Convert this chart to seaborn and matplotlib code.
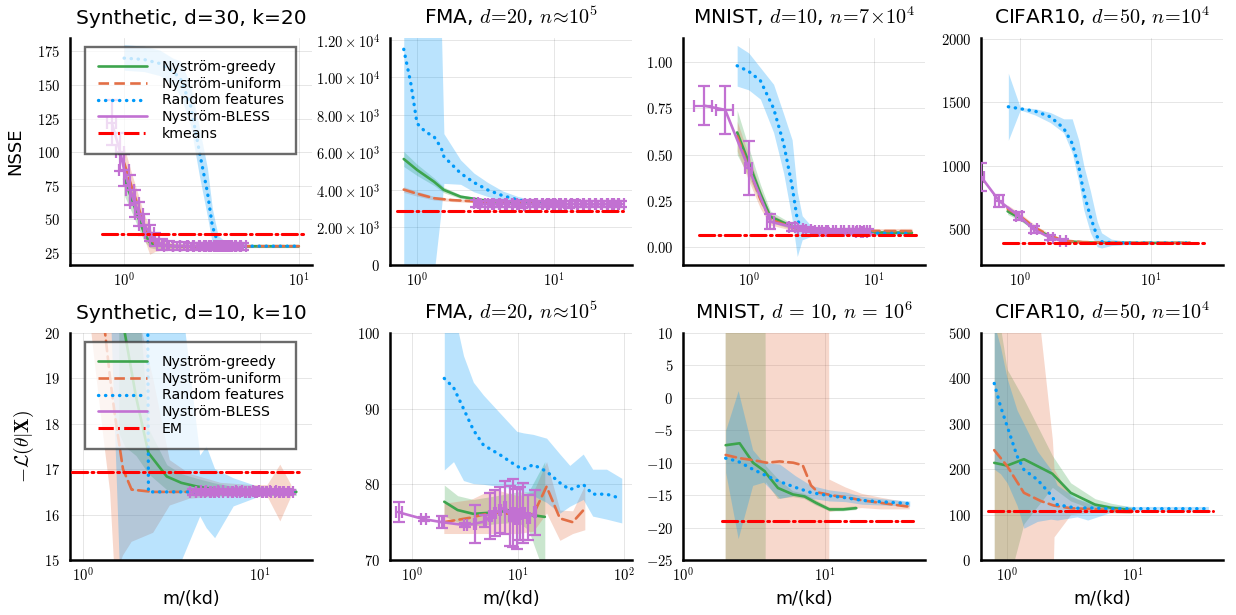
# -*- encoding: utf-8 -*-
import numpy as np
import matplotlib
matplotlib.use("Agg")
import matplotlib.pyplot as plt
import seaborn as sns
from matplotlib.lines import Line2D
from matplotlib.ticker import FixedLocator, NullLocator

# ---------------- top row: NSSE ----------------
# Synthetic, d=30, k=20
syn30_x = [1.0, 1.1, 1.2, 1.3, 1.4, 1.5, 1.7, 2.0, 3.0, 5.0, 7.0, 10.0]
syn30_gr = [80, 66, 52, 40, 33, 31, 30.5, 30, 30, 30, 30, 30]
syn30_gr_lo = [68, 56, 44, 34, 29, 28, 28.5, 28.5, 29, 29, 29, 29]
syn30_gr_hi = [92, 76, 60, 46, 37, 34, 32.5, 31.5, 31, 31, 31, 31]
syn30_un = [92, 75, 60, 46, 37, 32, 30.5, 30, 30, 30, 30, 30]
syn30_un_lo = [80, 65, 51, 36, 24, 26, 27.5, 28, 29, 29, 29, 29]
syn30_un_hi = [104, 85, 69, 54, 44, 37, 33.5, 32, 31, 31, 31, 31]
syn30_rf_x = [1.0, 1.3, 1.6, 1.9, 2.1, 2.4, 2.7, 3.0, 3.2, 3.45, 4.0, 5.0, 7.0, 10.0]
syn30_rf = [170, 169, 166, 160, 155, 135, 100, 70, 45, 32, 30, 30, 30, 30]
syn30_rf_lo = [161, 160, 157, 150, 142, 120, 82, 52, 32, 27, 29, 29, 29, 29]
syn30_rf_hi = [180, 179, 176, 170, 168, 150, 118, 88, 58, 38, 31, 31, 31, 31]
syn30_bl_x = [0.85, 0.95, 1.0, 1.08, 1.15, 1.22, 1.3, 1.4, 1.5, 1.65, 1.8, 2.0, 2.2,
              2.4, 2.6, 2.8, 3.0, 3.2, 3.4, 3.6, 3.8, 4.0, 4.2, 4.5, 4.8]
syn30_bl = [122, 100, 87, 72, 62, 54, 46, 40, 35, 31, 30.5, 29.8, 30.2, 29.9, 30.1,
            30.0, 29.8, 30.2, 30.0, 30.0, 29.9, 30.1, 30.0, 29.9, 30.0]
syn30_bl_yerr = [17, 14, 12, 11, 10, 9, 8, 6, 5, 4, 3.5, 3, 3, 2.5, 2.5, 2.5, 2.5, 2.5,
                 2.5, 2.5, 2.5, 2.5, 2.5, 2.5, 2.5]
syn30_bl_xerr = [0.05, 0.05, 0.06, 0.06, 0.07, 0.07, 0.08, 0.08, 0.09, 0.1, 0.1, 0.1,
                 0.12, 0.12, 0.12, 0.13, 0.13, 0.14, 0.14, 0.15, 0.15, 0.16, 0.16, 0.17, 0.18]
syn30_kmeans = 39
syn30_kmeans_x = [0.75, 11.0]

# FMA, NSSE
fman_rf_x = [0.8, 0.9, 1.0, 1.15, 1.33, 1.5, 1.57, 2.08, 2.6, 3.28, 4.2, 5.45, 7.2, 9.0]
fman_rf = [11500, 9700, 7550, 7100, 6840, 6250, 5780, 4890, 4400, 4000, 3700, 3470, 3320, 3260]
fman_rf_lo = [-3000, -2500, -2000, -1500, -500, 2900, 4350, 4300, 3900, 3650, 3450, 3300, 3180, 3150]
fman_rf_hi = [15000, 15000, 15000, 14500, 13500, 13000, 7000, 5600, 4900, 4400, 3950, 3650, 3450, 3380]
fman_gr_x = [0.8, 1.0, 1.33, 1.57, 2.08, 3.0, 4.0, 5.5, 8.0, 10.0]
fman_gr = [5650, 5070, 4440, 4000, 3640, 3460, 3380, 3330, 3300, 3290]
fman_gr_lo = [5250, 4770, 4240, 3850, 3540, 3380, 3320, 3280, 3250, 3240]
fman_gr_hi = [6050, 5370, 4640, 4150, 3740, 3540, 3440, 3380, 3350, 3340]
fman_un_x = [0.8, 1.0, 1.33, 1.8, 2.8, 4.0, 6.0, 10.0]
fman_un = [4020, 3800, 3560, 3460, 3380, 3320, 3280, 3260]
fman_un_lo = [3870, 3670, 3460, 3380, 3320, 3270, 3230, 3210]
fman_un_hi = [4170, 3930, 3660, 3540, 3440, 3370, 3330, 3310]
fman_bl_x = [2.7, 3.0, 3.4, 3.8, 4.2, 4.7, 5.2, 5.8, 6.4, 7.0, 7.8, 8.6, 9.5, 10.5, 11.6,
             12.8, 14.1, 15.6, 17.2, 19.0, 21.0, 23.2, 25.6, 28.3, 31.0]
fman_bl = [3280, 3240, 3260, 3230, 3270, 3250, 3240, 3220, 3260, 3240, 3250, 3230, 3260,
           3240, 3250, 3230, 3260, 3240, 3250, 3230, 3240, 3250, 3230, 3240, 3250]
fman_bl_yerr = [190, 170, 180, 160, 180, 170, 160, 170, 180, 160, 170, 160, 180, 170, 160,
                170, 180, 160, 170, 160, 170, 180, 160, 170, 180]
fman_bl_xerr = [0.1, 0.12, 0.13, 0.15, 0.17, 0.19, 0.2, 0.23, 0.25, 0.28, 0.3, 0.34, 0.38,
                0.42, 0.46, 0.5, 0.56, 0.62, 0.68, 0.75, 0.84, 0.92, 1.0, 1.1, 1.2]
fman_kmeans = 2880
fman_kmeans_x = [0.71, 32.0]

# MNIST, NSSE
mnn_rf_x = [0.81, 1.0, 1.24, 1.58, 1.9, 2.22, 2.44, 2.67, 3.2, 4.0, 6.0, 10.0, 20.0]
mnn_rf = [0.98, 0.95, 0.90, 0.75, 0.56, 0.33, 0.15, 0.095, 0.085, 0.08, 0.078, 0.076, 0.075]
mnn_rf_lo = [0.87, 0.85, 0.80, 0.62, 0.40, 0.15, -0.05, 0.04, 0.06, 0.065, 0.068, 0.068, 0.068]
mnn_rf_hi = [1.09, 1.05, 0.97, 0.88, 0.72, 0.58, 0.30, 0.17, 0.11, 0.095, 0.088, 0.085, 0.082]
mnn_x = [0.81, 1.0, 1.24, 1.49, 2.25, 3.0, 5.0, 10.0, 20.0]
mnn_gr = [0.62, 0.46, 0.29, 0.165, 0.11, 0.092, 0.085, 0.08, 0.078]
mnn_gr_lo = [0.50, 0.38, 0.24, 0.135, 0.095, 0.082, 0.077, 0.072, 0.07]
mnn_gr_hi = [0.74, 0.54, 0.34, 0.195, 0.125, 0.102, 0.093, 0.088, 0.086]
mnn_un = [0.60, 0.43, 0.26, 0.15, 0.105, 0.095, 0.09, 0.088, 0.087]
mnn_un_lo = [0.52, 0.36, 0.21, 0.12, 0.09, 0.085, 0.08, 0.076, 0.072]
mnn_un_hi = [0.68, 0.50, 0.31, 0.18, 0.12, 0.105, 0.1, 0.1, 0.102]
mnn_bl_x = [0.44, 0.65, 1.0, 1.49, 2.22, 2.6, 3.0, 3.5, 4.0, 4.5, 5.2, 6.0, 6.5, 7.0, 7.5,
            8.0, 8.5, 9.0]
mnn_bl = [0.765, 0.742, 0.427, 0.138, 0.11, 0.10, 0.095, 0.09, 0.09, 0.088, 0.087, 0.086,
          0.085, 0.085, 0.084, 0.085, 0.084, 0.085]
mnn_bl_yerr = [0.105, 0.13, 0.145, 0.04, 0.02, 0.015, 0.015, 0.012, 0.012, 0.012, 0.012,
               0.012, 0.012, 0.012, 0.012, 0.012, 0.012, 0.012]
mnn_bl_xerr = [0.07, 0.1, 0.07, 0.1, 0.12, 0.12, 0.12, 0.15, 0.15, 0.2, 0.2, 0.25, 0.25,
               0.25, 0.3, 0.3, 0.3, 0.3]
mnn_kmeans = 0.066
mnn_kmeans_x = [0.40, 21.5]

# CIFAR10, NSSE
cfn_rf_x = [0.81, 1.0, 1.3, 1.7, 2.15, 2.5, 2.81, 3.07, 3.45, 3.89, 4.2, 5.0, 7.0, 10.0, 15.0, 20.0]
cfn_rf = [1465, 1450, 1430, 1386, 1296, 1176, 992, 782, 597, 439, 400, 392, 390, 390, 390, 390]
cfn_rf_lo = [1200, 1440, 1400, 1340, 1260, 1100, 870, 650, 470, 360, 350, 370, 380, 385, 385, 385]
cfn_rf_hi = [1730, 1460, 1450, 1420, 1370, 1370, 1200, 1000, 800, 560, 470, 420, 400, 395, 395, 395]
cfn_x = [0.8, 1.0, 1.3, 1.7, 2.2, 3.0, 5.0, 10.0, 20.0]
cfn_gr = [640, 585, 500, 440, 405, 395, 390, 390, 390]
cfn_gr_lo = [615, 565, 485, 428, 395, 387, 385, 385, 385]
cfn_gr_hi = [665, 605, 515, 452, 415, 403, 395, 395, 395]
cfn_un = [660, 600, 510, 445, 408, 397, 392, 391, 391]
cfn_un_lo = [630, 575, 490, 430, 398, 389, 387, 386, 386]
cfn_un_hi = [690, 625, 530, 460, 418, 405, 397, 396, 396]
cfn_bl_x = [0.5, 0.69, 0.98, 1.27, 1.7, 2.13]
cfn_bl = [913, 721, 602, 497, 431, 405]
cfn_bl_yerr = [110, 45, 30, 25, 20, 15]
cfn_bl_xerr = [0.03, 0.05, 0.06, 0.07, 0.08, 0.1]
cfn_kmeans = 387
cfn_kmeans_x = [0.74, 25.7]

# ---------------- bottom row: -log-likelihood ----------------
# Synthetic, d=10, k=10
s10_gr_x = [1.6, 1.73, 2.0, 2.35, 2.98, 3.6, 4.4, 5.5, 7.1, 10.0, 16.0]
s10_gr = [21.5, 20.0, 18.6, 17.36, 16.84, 16.7, 16.62, 16.56, 16.52, 16.5, 16.5]
s10_gr_lo = [17.8, 17.5, 17.3, 16.9, 16.55, 16.5, 16.45, 16.42, 16.42, 16.42, 16.42]
s10_gr_hi = [26, 24, 21.5, 17.9, 17.1, 16.9, 16.8, 16.7, 16.62, 16.58, 16.58]
s10_un_x = [1.1, 1.2, 1.34, 1.43, 1.52, 1.69, 1.89, 2.5, 3.1, 4.0, 6.0, 9.0, 11.0, 13.0, 15.0]
s10_un = [24, 22, 20, 19.0, 18.2, 17.0, 16.55, 16.5, 16.5, 16.5, 16.5, 16.5, 16.5, 16.5, 16.5]
s10_un_lo = [20.3, 19.0, 17.4, 16.5, 14.6, 15.1, 15.4, 15.6, 16.2, 16.35, 16.4, 16.4, 16.4, 15.85, 16.4]
s10_un_hi = [35, 32, 30, 28, 26, 23, 21, 19, 17.2, 16.9, 16.7, 16.65, 16.65, 17.1, 16.65]
s10_rf_x = [1.4, 1.62, 2.0, 2.28, 2.35, 3.0, 3.55, 4.6, 5.0, 5.58, 7.1, 10.0, 16.0]
s10_rf = [40, 38, 35, 30, 16.5, 16.5, 16.5, 16.5, 16.5, 16.5, 16.5, 16.5, 16.5]
s10_rf_lo = [22, 14.9, 13, 13, 13, 14, 14.9, 15.96, 15.7, 15.48, 16.18, 16.4, 16.45]
s10_rf_hi = [60, 55, 50, 45, 30, 25, 21, 17.3, 17.5, 17.0, 16.8, 16.6, 16.55]
s10_bl_x = [4.2, 4.5, 4.8, 5.1, 5.4, 5.7, 6.0, 6.4, 6.8, 7.2, 7.6, 8.0, 8.5, 9.0, 9.5,
            10.0, 10.6, 11.2, 11.8, 12.5, 13.2, 14.0, 14.8]
s10_bl = [16.50, 16.49, 16.51, 16.50, 16.49, 16.50, 16.51, 16.50, 16.49, 16.50, 16.51,
          16.50, 16.49, 16.50, 16.51, 16.50, 16.49, 16.50, 16.51, 16.50, 16.49, 16.50, 16.50]
s10_bl_yerr = [0.06, 0.05, 0.05, 0.06, 0.05, 0.05, 0.06, 0.05, 0.05, 0.06, 0.05, 0.05,
               0.06, 0.05, 0.05, 0.06, 0.05, 0.05, 0.06, 0.05, 0.05, 0.06, 0.05]
s10_bl_xerr = [0.15, 0.16, 0.17, 0.18, 0.19, 0.2, 0.21, 0.22, 0.24, 0.25, 0.27, 0.28, 0.3,
               0.31, 0.33, 0.35, 0.37, 0.39, 0.41, 0.44, 0.46, 0.49, 0.52]
s10_em = 16.94
s10_em_x = [0.87, 17.2]

# FMA, log-likelihood
fmal_rf_x = [2.02, 2.47, 3.07, 3.8, 4.73, 6.8, 9.8, 11.3, 14.0, 18.7, 25.0, 31.0, 41.5, 51.0, 69.0, 96.0]
fmal_rf = [94.0, 92.8, 90.0, 87.2, 85.2, 83.9, 82.4, 82.0, 82.6, 81.7, 80.2, 79.3, 80.0, 78.7, 78.7, 78.1]
fmal_rf_lo = [81.9, 83.0, 80.5, 80.1, 80.0, 79.7, 79.3, 79.0, 78.5, 77.6, 76.2, 77.1, 78.0, 75.8, 75.4, 74.9]
fmal_rf_hi = [105, 103, 97, 93.5, 91.8, 89.4, 87.0, 86.8, 86.6, 86.1, 84.0, 82.5, 84.0, 82.0, 82.0, 80.8]
fmal_gr_x = [2.02, 2.7, 3.8, 6.3, 10.0, 12.6, 18.0]
fmal_gr = [77.7, 76.6, 76.1, 76.3, 76.7, 76.0, 75.7]
fmal_gr_lo = [75.8, 75.0, 74.5, 74.8, 75.0, 74.0, 68.0]
fmal_gr_hi = [79.9, 78.5, 78.0, 78.5, 79.0, 79.0, 83.0]
fmal_un_x = [2.0, 3.6, 5.8, 10.0, 14.0, 18.7, 25.0, 33.0, 43.0]
fmal_un = [75.0, 75.6, 76.3, 76.0, 76.0, 79.7, 75.5, 75.0, 76.8]
fmal_un_lo = [73.5, 73.5, 73.5, 73.5, 73.8, 76.2, 72.6, 73.5, 74.0]
fmal_un_hi = [77.5, 78.0, 79.4, 78.5, 79.0, 83.0, 76.6, 76.5, 79.9]
fmal_bl_x = [0.75, 1.29, 1.92, 3.19, 3.95, 4.9, 5.5, 6.1, 6.8, 7.6, 8.5, 9.1, 9.8, 10.5, 11.3, 12.6, 14.6]
fmal_bl = [76.3, 75.4, 75.0, 74.6, 74.8, 75.1, 75.8, 76.2, 76.6, 77.0, 75.8, 76.2, 75.4, 76.1, 76.2, 75.6, 76.3]
fmal_bl_yerr = [1.3, 0.3, 0.8, 0.3, 2.5, 0.8, 3.0, 3.0, 3.0, 3.5, 4.0, 4.5, 4.0, 3.5, 4.0, 3.0, 3.0]
fmal_bl_xerr = [0.05, 0.08, 0.1, 0.1, 0.1, 0.15, 0.15, 0.15, 0.2, 0.2, 0.25, 0.25, 0.3, 0.3, 0.3, 0.35, 0.4]

# MNIST, log-likelihood
mnl_gr_x = [2.0, 2.51, 3.12, 3.77, 3.85, 4.68, 5.98, 7.2, 8.7, 10.8, 13.5, 16.7]
mnl_gr = [-7.3, -7.0, -10.0, -11.3, -11.6, -13.9, -14.9, -15.2, -16.2, -17.2, -17.2, -17.0]
mnl_gr_lo = [-60, -60, -60, -60, -13.0, -15.6, -15.3, -15.6, -16.6, -17.5, -17.5, -17.3]
mnl_gr_hi = [60, 60, 60, 60, -10.5, -12.5, -14.4, -14.8, -15.8, -16.9, -16.9, -16.7]
mnl_un_x = [2.0, 2.51, 3.12, 3.9, 4.8, 6.0, 7.0, 8.0, 9.0, 10.6, 10.8, 14.0, 18.3, 25.0, 39.8]
mnl_un = [-8.8, -9.3, -9.6, -10.0, -9.8, -10.0, -10.4, -13.5, -14.6, -14.9, -15.0, -15.3, -15.8, -16.2, -16.8]
mnl_un_lo = [-60, -60, -60, -60, -60, -60, -60, -60, -60, -60, -17.6, -17.2, -17.0, -17.2, -17.2]
mnl_un_hi = [60, 60, 60, 60, 60, 60, 60, 60, 60, 60, -12.6, -13.8, -14.8, -15.4, -16.2]
mnl_rf_x = [2.0, 2.45, 3.1, 3.7, 4.8, 6.2, 8.0, 10.8, 14.0, 18.3, 24.0, 39.8]
mnl_rf = [-9.3, -9.8, -11.0, -11.8, -12.9, -13.8, -14.6, -15.1, -15.4, -15.8, -16.0, -16.3]
mnl_rf_lo = [-11.5, -21.7, -13.5, -13.0, -15.5, -15.0, -15.5, -15.9, -16.0, -16.4, -16.5, -16.7]
mnl_rf_hi = [-5.0, 1.1, -8.0, -10.0, -10.2, -12.0, -13.5, -14.2, -14.5, -15.2, -15.5, -15.9]
mnl_em = -19.0
mnl_em_x = [1.87, 42.0]

# CIFAR10, log-likelihood
cfl_gr_x = [0.79, 1.0, 1.36, 2.29, 3.2, 5.0, 6.7, 9.7]
cfl_gr = [214, 208, 222, 190, 148, 122, 115, 110]
cfl_gr_lo = [-60, -60, 80, 160, 130, 110, 105, 103]
cfl_gr_hi = [600, 420, 354, 230, 170, 135, 125, 117]
cfl_un_x = [0.79, 1.0, 1.36, 1.85, 2.29, 2.36, 3.2, 4.9, 6.7, 9.7]
cfl_un = [242, 207, 148, 130, 121, 120, 114, 112, 110, 109]
cfl_un_lo = [-100, -100, -100, -100, -100, 51, 100, 105, 104, 103]
cfl_un_hi = [700, 700, 700, 500, 265, 200, 140, 120, 116, 115]
cfl_rf_x = [0.79, 0.885, 1.0, 1.2, 1.36, 1.74, 2.22, 2.5, 3.6, 4.37, 6.7, 10.0, 20.0, 39.8]
cfl_rf = [389, 339, 295, 229, 199, 177, 144, 122, 114, 115, 113, 113, 113, 113]
cfl_rf_lo = [200, 190, 170, 120, 70, 85, 90, 88, 95, 88, 105, 108, 108, 108]
cfl_rf_hi = [520, 470, 400, 330, 300, 240, 200, 165, 135, 128, 120, 118, 118, 118]
cfl_em = 107
cfl_em_x = [0.71, 43.7]

series_labels = ["Nyström-greedy", "Nyström-uniform", "Random features", "Nyström-BLESS"]

# ---------------- style ----------------
GREEN = "#3da44d"
ORANGE = "#e26f46"
BLUE = "#009afa"
PURPLE = "#c271d2"
RED = "#ff0000"
FILL_ALPHA = 0.27
DASH = (0, (4, 2))
DOT = (0, (0.1, 2.0))
DASHDOT = (0, (5, 1.4, 0.6, 1.4))

sns.set_theme(style="white")
plt.rcParams["font.family"] = ["DejaVu Sans"]
plt.rcParams["mathtext.fontset"] = "cm"
plt.rcParams["axes.unicode_minus"] = True
for key in ("text.color", "axes.labelcolor", "xtick.color", "ytick.color"):
    plt.rcParams[key] = "black"


def ribbon(ax, x, lo, hi, color):
    ax.fill_between(x, lo, hi, color=color, alpha=FILL_ALPHA, linewidth=0, zorder=1)


def curve(ax, x, y, color, ls, lw=1.9, z=3):
    sns.lineplot(x=x, y=y, ax=ax, color=color, linestyle=ls, linewidth=lw,
                 estimator=None, errorbar=None, sort=False, legend=False,
                 dash_capstyle="round", zorder=z)


def method(ax, x, y, lo, hi, color, ls):
    ribbon(ax, x, lo, hi, color)
    curve(ax, x, y, color, ls, lw=2.4 if ls == DOT else 1.9)


def bless(ax, x, y, xerr, yerr):
    ax.errorbar(x, y, xerr=xerr, yerr=yerr, fmt="none", ecolor=PURPLE,
                elinewidth=1.6, capsize=4, capthick=1.6, zorder=4)
    curve(ax, x, y, PURPLE, "-", z=4)


def baseline(ax, value, span):
    curve(ax, span, [value, value], RED, DASHDOT, lw=2.2, z=5)


def style(ax, xlim, ylim, yticks, ylabels, xticks, title):
    ax.set_xlim(xlim)
    ax.set_ylim(ylim)
    ax.xaxis.set_major_locator(FixedLocator(xticks))
    ax.xaxis.set_minor_locator(NullLocator())
    ax.set_xticklabels([r"$10^{%d}$" % round(np.log10(t)) for t in xticks])
    ax.set_yticks(yticks)
    ax.set_yticklabels(ylabels)
    ax.grid(True, color="black", alpha=0.1, linewidth=0.7)
    for s in ("top", "right"):
        ax.spines[s].set_visible(False)
    for s in ("left", "bottom"):
        ax.spines[s].set_linewidth(1.8)
        ax.spines[s].set_color("black")
    ax.tick_params(axis="y", direction="in", length=4, width=1, labelsize=10.5, pad=7)
    ax.tick_params(axis="x", direction="in", length=4, width=1, labelsize=10.5, pad=4)
    ax.set_xlabel("")
    ax.set_ylabel("")
    ax.set_title(title, fontsize=14.5, pad=10)


def add_legend(ax, last):
    handles = [Line2D([], [], color=GREEN, lw=1.9, ls="-"),
               Line2D([], [], color=ORANGE, lw=1.9, ls=DASH),
               Line2D([], [], color=BLUE, lw=2.4, ls=DOT, dash_capstyle="round"),
               Line2D([], [], color=PURPLE, lw=1.9, ls="-"),
               Line2D([], [], color=RED, lw=2.2, ls=DASHDOT)]
    leg = ax.legend(handles, series_labels + [last], loc="upper left",
                    bbox_to_anchor=(0.062, 0.96), fontsize=10.2, frameon=True,
                    fancybox=False, framealpha=0.75, edgecolor="#3a3a3a",
                    borderpad=0.9, handlelength=3.5, handletextpad=1.0,
                    labelspacing=0.2, borderaxespad=0)
    leg.get_frame().set_linewidth(1.7)
    leg.set_zorder(10)


fig = plt.figure(figsize=(12.36, 6.15), dpi=100)
W, H = 1236.0, 615.0
lefts = [70, 390, 683, 981]
tops = [38, 333]
axes = [[fig.add_axes([l / W, 1 - (t + 227) / H, 242 / W, 227 / H]) for l in lefts] for t in tops]
for row in axes:
    for ax in row:
        ax.set_xscale("log")

int_labels = lambda v: [r"$%d$" % t for t in v]

# panel 1
ax = axes[0][0]
method(ax, syn30_x, syn30_gr, syn30_gr_lo, syn30_gr_hi, GREEN, "-")
method(ax, syn30_x, syn30_un, syn30_un_lo, syn30_un_hi, ORANGE, DASH)
method(ax, syn30_rf_x, syn30_rf, syn30_rf_lo, syn30_rf_hi, BLUE, DOT)
bless(ax, syn30_bl_x, syn30_bl, syn30_bl_xerr, syn30_bl_yerr)
baseline(ax, syn30_kmeans, syn30_kmeans_x)
yt = [25, 50, 75, 100, 125, 150, 175]
style(ax, (0.49, 11.9), (16, 185), yt, int_labels(yt), [1, 10], "Synthetic, d=30, k=20")
add_legend(ax, "kmeans")
ax.set_ylabel("NSSE", fontsize=13)
ax.yaxis.set_label_coords(-0.19, 0.5)

# panel 2
ax = axes[0][1]
method(ax, fman_gr_x, fman_gr, fman_gr_lo, fman_gr_hi, GREEN, "-")
method(ax, fman_un_x, fman_un, fman_un_lo, fman_un_hi, ORANGE, DASH)
method(ax, fman_rf_x, fman_rf, fman_rf_lo, fman_rf_hi, BLUE, DOT)
bless(ax, fman_bl_x, fman_bl, fman_bl_xerr, fman_bl_yerr)
baseline(ax, fman_kmeans, fman_kmeans_x)
yt = [0, 2000, 4000, 6000, 8000, 10000, 12000]
yl = [r"$0$", r"$2.00\times10^{3}$", r"$4.00\times10^{3}$", r"$6.00\times10^{3}$",
      r"$8.00\times10^{3}$", r"$1.00\times10^{4}$", r"$1.20\times10^{4}$"]
style(ax, (0.635, 37), (0, 12100), yt, yl, [1, 10], r"FMA, $d\!=\!20$, $n\!\approx\!10^5$")

# panel 3
ax = axes[0][2]
method(ax, mnn_x, mnn_gr, mnn_gr_lo, mnn_gr_hi, GREEN, "-")
method(ax, mnn_x, mnn_un, mnn_un_lo, mnn_un_hi, ORANGE, DASH)
method(ax, mnn_rf_x, mnn_rf, mnn_rf_lo, mnn_rf_hi, BLUE, DOT)
bless(ax, mnn_bl_x, mnn_bl, mnn_bl_xerr, mnn_bl_yerr)
baseline(ax, mnn_kmeans, mnn_kmeans_x)
yt = [0, 0.25, 0.5, 0.75, 1.0]
style(ax, (0.30, 25.4), (-0.096, 1.13), yt, [r"$%.2f$" % t for t in yt], [1, 10],
      r"MNIST, $d\!=\!10$, $n\!=\!7\!\times\!10^4$")

# panel 4
ax = axes[0][3]
method(ax, cfn_x, cfn_gr, cfn_gr_lo, cfn_gr_hi, GREEN, "-")
method(ax, cfn_x, cfn_un, cfn_un_lo, cfn_un_hi, ORANGE, DASH)
method(ax, cfn_rf_x, cfn_rf, cfn_rf_lo, cfn_rf_hi, BLUE, DOT)
bless(ax, cfn_bl_x, cfn_bl, cfn_bl_xerr, cfn_bl_yerr)
baseline(ax, cfn_kmeans, cfn_kmeans_x)
yt = [500, 1000, 1500, 2000]
style(ax, (0.5, 35.8), (216, 2008), yt, int_labels(yt), [1, 10],
      r"CIFAR10, $d\!=\!50$, $n\!=\!10^4$")

# panel 5
ax = axes[1][0]
method(ax, s10_gr_x, s10_gr, s10_gr_lo, s10_gr_hi, GREEN, "-")
method(ax, s10_un_x, s10_un, s10_un_lo, s10_un_hi, ORANGE, DASH)
method(ax, s10_rf_x, s10_rf, s10_rf_lo, s10_rf_hi, BLUE, DOT)
bless(ax, s10_bl_x, s10_bl, s10_bl_xerr, s10_bl_yerr)
baseline(ax, s10_em, s10_em_x)
yt = [15, 16, 17, 18, 19, 20]
style(ax, (0.85, 19.6), (15, 20), yt, int_labels(yt), [1, 10], "Synthetic, d=10, k=10")
add_legend(ax, "EM")
ax.set_ylabel(r"$-\mathcal{L}(\theta|\mathbf{X})$", fontsize=14)
ax.yaxis.set_label_coords(-0.14, 0.5)

# panel 6
ax = axes[1][1]
method(ax, fmal_gr_x, fmal_gr, fmal_gr_lo, fmal_gr_hi, GREEN, "-")
method(ax, fmal_un_x, fmal_un, fmal_un_lo, fmal_un_hi, ORANGE, DASH)
method(ax, fmal_rf_x, fmal_rf, fmal_rf_lo, fmal_rf_hi, BLUE, DOT)
bless(ax, fmal_bl_x, fmal_bl, fmal_bl_xerr, fmal_bl_yerr)
yt = [70, 80, 90, 100]
style(ax, (0.62, 120), (70, 100), yt, int_labels(yt), [1, 10, 100],
      r"FMA, $d\!=\!20$, $n\!\approx\!10^5$")

# panel 7
ax = axes[1][2]
method(ax, mnl_gr_x, mnl_gr, mnl_gr_lo, mnl_gr_hi, GREEN, "-")
method(ax, mnl_un_x, mnl_un, mnl_un_lo, mnl_un_hi, ORANGE, DASH)
method(ax, mnl_rf_x, mnl_rf, mnl_rf_lo, mnl_rf_hi, BLUE, DOT)
baseline(ax, mnl_em, mnl_em_x)
yt = [-25, -20, -15, -10, -5, 0, 5, 10]
style(ax, (1.0, 51), (-25, 10), yt, int_labels(yt), [1, 10],
      r"MNIST, $d\,=\,10$, $n\,=\,10^6$")

# panel 8
ax = axes[1][3]
method(ax, cfl_gr_x, cfl_gr, cfl_gr_lo, cfl_gr_hi, GREEN, "-")
method(ax, cfl_un_x, cfl_un, cfl_un_lo, cfl_un_hi, ORANGE, DASH)
method(ax, cfl_rf_x, cfl_rf, cfl_rf_lo, cfl_rf_hi, BLUE, DOT)
baseline(ax, cfl_em, cfl_em_x)
yt = [0, 100, 200, 300, 400, 500]
style(ax, (0.62, 52), (0, 500), yt, int_labels(yt), [1, 10],
      r"CIFAR10, $d\!=\!50$, $n\!=\!10^4$")

for ax in axes[1]:
    ax.set_xlabel("m/(kd)", fontsize=12.5)
    ax.xaxis.set_label_coords(0.5, -0.13)

fig.savefig("out.png", dpi=100)
